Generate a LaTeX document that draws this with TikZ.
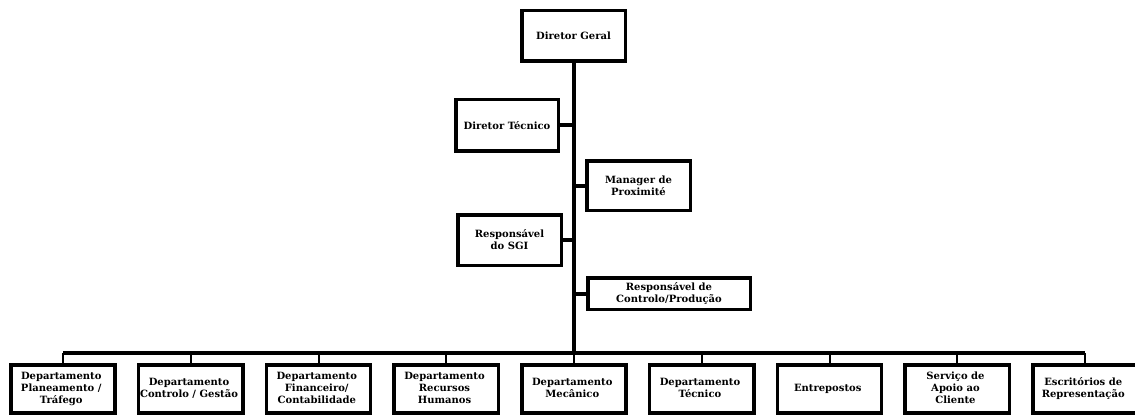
\documentclass[tikz,border=0pt]{standalone}
\usepackage{fontspec}
\setmainfont{DejaVu Serif}
\usepackage{tikz}
\usetikzlibrary{matrix,positioning}

\newcommand{\stacked}[1]{\begin{tabular}{@{}c@{}}#1\end{tabular}}

\tikzset{
  box/.style={draw, line width=3.5pt, align=center, inner sep=1pt,
              font=\bfseries\fontsize{10}{12}\selectfont},
  trunk/.style={line width=4pt},
  drop/.style={line width=2pt},
}

\begin{document}
\begin{tikzpicture}[x=1pt,y=-1pt]
  \useasboundingbox (0,0) rectangle (1135,417);

  % direction
  \node[box, minimum width=103.5pt, minimum height=50.5pt] (geral) at (573.5,36) {Diretor Geral};
  \node[box, minimum width=102.5pt, minimum height=51.5pt] (tecnico) at (507,125.5) {Diretor Técnico};
  \node[box, minimum width=103.5pt, minimum height=49.5pt] (manager) at (638.5,185.5) {Manager de\\Proximité};
  \node[box, minimum width=103.5pt, minimum height=50.5pt] (sgi) at (509.5,240) {Responsável\\do SGI};
  \node[box, minimum width=162.5pt, minimum height=31.5pt] (controlo) at (669,293.5) {Responsável de\\Controlo/Produção};

  % departments
  \matrix (m) [matrix of nodes,
               nodes={box, minimum width=104pt, minimum height=48pt, anchor=center},
               column sep=20.25pt, anchor=center] at (574,389)
  {
    \stacked{Departamento\\Planeamento /\\Tráfego} &
    \stacked{Departamento\\Controlo / Gestão} &
    \stacked{Departamento\\Financeiro/\\Contabilidade} &
    \stacked{Departamento\\Recursos\\Humanos} &
    \stacked{Departamento\\Mecânico} &
    \stacked{Departamento\\Técnico} &
    Entrepostos &
    \stacked{Serviço de\\Apoio ao\\Cliente} &
    \stacked{Escritórios de\\Representação} \\
  };

  \coordinate (bar) at (573.5,353);

  % connectors
  \draw[trunk] (geral.south) -- (bar);
  \draw[trunk] (tecnico.east) -- (tecnico.east -| geral.south);
  \draw[trunk] (manager.west) -- (manager.west -| geral.south);
  \draw[trunk] (sgi.east) -- (sgi.east -| geral.south);
  \draw[trunk] (controlo.west) -- (controlo.west -| geral.south);
  \draw[trunk] (m-1-1.north |- bar) -- (m-1-9.north |- bar);
  \foreach \i in {1,...,9}
    \draw[drop] (m-1-\i.north |- bar) -- (m-1-\i.north);
\end{tikzpicture}
\end{document}
